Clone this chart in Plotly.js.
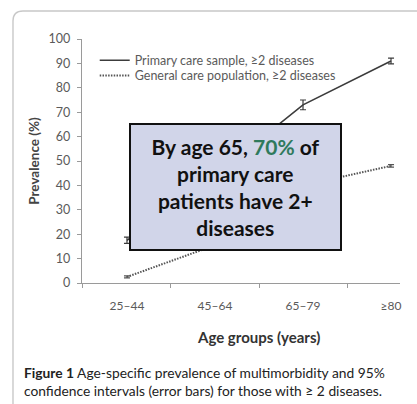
<!DOCTYPE html>
<html>
<head>
<meta charset="utf-8">
<script src="https://cdn.plot.ly/plotly-3.0.1.min.js"></script>
<style>
  html, body { margin: 0; padding: 0; background: #ffffff; }
  #chart { width: 417px; height: 404px; }
</style>
</head>
<body>
<div id="chart"></div>
<script>
// Age groups on the category axis
const ageGroups = ['25\u201344', '45\u201364', '65\u201379', '\u226580'];

// Prevalence (%) of people with two or more diseases
const primaryCare = [17.5, 44, 73, 91];
const primaryCareCI = [1.3, 1.0, 2.0, 1.2];
const generalPopulation = [2.5, 15.5, 40, 48];
const generalPopulationCI = [0.4, 0.4, 0.4, 0.5];

const yTicks = [0, 10, 20, 30, 40, 50, 60, 70, 80, 90, 100];

const labelFont = 'Lato, "Open Sans", sans-serif';

const traces = [
  {
    x: ageGroups, y: primaryCare, type: 'scatter', mode: 'lines',
    name: 'Primary care sample, \u22652 diseases',
    line: { color: '#3c3c3c', width: 1.6 },
    error_y: { type: 'data', array: primaryCareCI, visible: true, color: '#3c3c3c', thickness: 1.2, width: 3 },
    legend: 'legend', hoverinfo: 'skip'
  },
  {
    x: ageGroups, y: generalPopulation, type: 'scatter', mode: 'lines',
    name: 'General care population, \u22652 diseases',
    line: { color: '#555555', width: 2, dash: '1.5px,1.3px' },
    error_y: { type: 'data', array: generalPopulationCI, visible: true, color: '#555555', thickness: 1.2, width: 3 },
    legend: 'legend2', hoverinfo: 'skip'
  }
];

const legendStyle = {
  font: { family: labelFont, size: 12.5, color: '#5a5a5a' },
  bgcolor: 'rgba(0,0,0,0)', borderwidth: 0,
  xanchor: 'left', yanchor: 'top', tracegroupgap: 0
};

const layout = {
  width: 417, height: 404,
  margin: { l: 82, r: 17, t: 39, b: 121 },
  paper_bgcolor: '#ffffff', plot_bgcolor: '#ffffff',
  font: { family: labelFont, color: '#5a5a5a' },
  showlegend: true,
  legend: Object.assign({ x: 0.040, y: 0.973 }, legendStyle),
  legend2: Object.assign({ x: 0.040, y: 0.910 }, legendStyle),
  xaxis: {
    type: 'category',
    range: [-0.511, 3.102],
    showline: true, linecolor: '#9a9a9a', linewidth: 1.2,
    showgrid: false, zeroline: false,
    ticks: 'outside', tickson: 'boundaries', ticklen: 4, tickcolor: '#9a9a9a',
    tickfont: { family: labelFont, size: 12, color: '#5a5a5a' },
    ticklabelstandoff: 11,
    fixedrange: true
  },
  yaxis: {
    range: [0, 100],
    tickvals: yTicks,
    showline: true, linecolor: '#9a9a9a', linewidth: 1.2,
    showgrid: false, zeroline: false,
    ticks: 'outside', ticklen: 4, tickcolor: '#9a9a9a',
    tickfont: { family: labelFont, size: 12.5, color: '#5a5a5a' },
    ticklabelstandoff: 4,
    title: { text: 'Prevalence (%)', font: { family: labelFont, size: 13.5, color: '#444444', weight: 'bold' }, standoff: 5 },
    fixedrange: true
  },
  shapes: [
    {
      // rounded panel frame around the figure
      type: 'path', xref: 'paper', yref: 'paper', layer: 'below',
      path: 'M -0.2170,-0.6 L -0.2170,1.0738 Q -0.2170,1.1148 -0.1856,1.1148 L 1.2,1.1148',
      line: { color: '#c8c8c8', width: 1.4 }
    }
  ],
  annotations: [
    {
      xref: 'paper', yref: 'paper', x: 0.5566, y: -0.2213,
      xanchor: 'center', yanchor: 'middle', showarrow: false,
      text: '<b>Age groups (years)</b>',
      font: { family: labelFont, size: 15, color: '#333333' }
    },
    {
      xref: 'paper', yref: 'paper', x: -0.1887, y: -0.4040,
      xanchor: 'left', yanchor: 'middle', align: 'left', showarrow: false,
      text: '<b>Figure 1</b> Age-specific prevalence of multimorbidity and 95%<br>confidence intervals (error bars) for those with \u2265 2 diseases.',
      font: { family: labelFont, size: 13.8, color: '#222222' }
    },
    {
      xref: 'paper', yref: 'paper', x: 0.4827, y: 0.3934,
      xanchor: 'center', yanchor: 'middle', showarrow: false,
      width: 209, height: 124, borderpad: 0,
      bgcolor: '#d1d5e9', bordercolor: '#111111', borderwidth: 2,
      text: 'By age 65, <span style="color:#2f7a5c">70%</span> of<br>primary care<br>patients have 2+<br>diseases',
      font: { family: labelFont, size: 21, color: '#111111', weight: 'bold' }
    }
  ]
};

Plotly.newPlot('chart', traces, layout, { displayModeBar: false, staticPlot: true });
</script>
</body>
</html>
